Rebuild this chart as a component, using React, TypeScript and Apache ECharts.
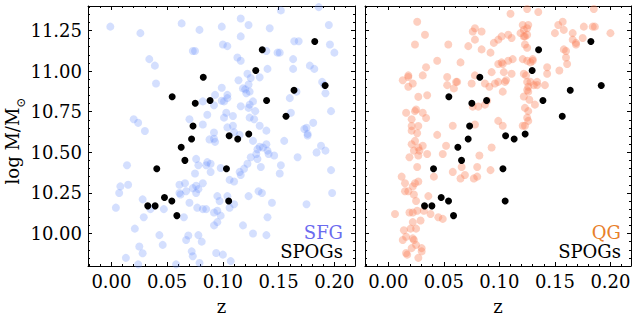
import React, { useEffect, useRef } from "react";
import * as echarts from "echarts";

const FONT = "'DejaVu Serif', serif";

// SFG (star-forming galaxies): [z, log M/Msun]
const SFG: [number, number][] = [
  [-0.001, 11.273], [0.026, 11.233], [0.063, 11.293], [0.079, 11.253], [0.099, 11.273], [0.073, 11.123], [0.075, 11.123],
  [0.100, 11.163], [0.034, 11.073], [0.039, 11.033], [0.040, 10.923], [0.099, 10.897], [0.093, 10.853], [0.082, 10.813],
  [0.092, 10.789], [0.099, 10.817], [0.086, 10.731], [0.020, 10.703], [0.024, 10.681], [0.070, 10.703], [0.082, 10.671],
  [0.030, 10.631], [0.092, 10.621], [0.101, 10.713],
  [0.152, 11.373], [0.186, 11.393], [0.116, 11.323], [0.123, 11.283], [0.142, 11.263], [0.195, 11.283], [0.116, 11.213],
  [0.104, 11.153], [0.164, 11.183], [0.168, 11.183], [0.196, 11.163], [0.200, 11.113], [0.149, 11.113], [0.151, 11.113],
  [0.139, 11.123], [0.113, 11.083], [0.116, 11.063], [0.163, 11.073], [0.178, 11.033], [0.182, 11.013], [0.140, 11.013],
  [0.163, 11.013], [0.122, 10.983], [0.125, 10.957], [0.133, 10.961], [0.114, 10.943], [0.123, 10.917], [0.118, 10.893],
  [0.120, 10.887], [0.124, 10.873], [0.121, 10.863], [0.189, 10.933], [0.191, 10.913], [0.192, 10.863], [0.166, 10.873],
  [0.160, 10.833], [0.104, 10.853], [0.104, 10.833], [0.101, 10.813], [0.127, 10.813], [0.124, 10.793], [0.116, 10.783],
  [0.123, 10.773], [0.129, 10.753], [0.197, 10.753], [0.161, 10.743], [0.103, 10.743], [0.124, 10.713], [0.128, 10.703],
  [0.109, 10.723], [0.181, 10.681], [0.133, 10.663], [0.104, 10.653], [0.109, 10.663], [0.139, 10.633], [0.173, 10.643],
  [0.175, 10.651], [0.176, 10.613], [0.110, 10.623], [0.115, 10.607],
  [0.088, 10.579], [0.092, 10.583], [0.093, 10.564], [0.076, 10.459], [0.078, 10.420], [0.086, 10.439], [0.085, 10.420],
  [0.089, 10.429], [0.098, 10.403], [0.075, 10.369], [0.089, 10.379], [0.014, 10.420], [0.008, 10.290], [0.015, 10.300],
  [0.007, 10.249], [0.061, 10.300], [0.066, 10.309], [0.073, 10.279], [0.076, 10.294], [0.078, 10.273], [0.076, 10.249],
  [0.082, 10.309], [0.061, 10.249], [0.062, 10.240], [0.067, 10.260], [0.070, 10.189], [0.095, 10.230], [0.097, 10.200],
  [0.028, 10.210], [0.004, 10.159], [0.035, 10.150], [0.047, 10.150], [0.077, 10.159], [0.082, 10.150], [0.085, 10.150],
  [0.092, 10.129], [0.095, 10.140], [0.098, 10.110], [0.029, 10.100], [0.065, 10.100], [0.095, 10.070], [0.092, 10.050],
  [0.021, 10.030], [0.043, 9.990], [0.069, 9.988], [0.067, 9.960], [0.078, 9.990], [0.081, 9.950], [0.046, 9.930],
  [0.025, 9.920], [0.028, 9.878], [0.072, 9.890], [0.073, 9.860], [0.094, 9.880], [0.013, 9.850], [0.024, 9.810],
  [0.058, 9.810], [0.079, 9.818], [0.100, 9.870],
  [0.127, 10.570], [0.155, 10.570], [0.176, 10.603], [0.139, 10.549], [0.133, 10.534], [0.136, 10.529], [0.131, 10.519],
  [0.140, 10.510], [0.141, 10.489], [0.130, 10.489], [0.125, 10.469], [0.131, 10.459], [0.146, 10.480], [0.188, 10.540],
  [0.184, 10.499], [0.192, 10.510], [0.167, 10.469], [0.122, 10.429], [0.119, 10.399], [0.115, 10.379], [0.116, 10.360],
  [0.134, 10.409], [0.152, 10.420], [0.151, 10.369], [0.197, 10.390], [0.106, 10.330], [0.110, 10.320], [0.132, 10.260],
  [0.135, 10.249], [0.123, 10.230], [0.104, 10.230], [0.198, 10.249], [0.110, 10.180], [0.106, 10.159], [0.144, 10.189],
  [0.175, 10.180], [0.140, 10.100], [0.118, 10.050], [0.127, 10.000], [0.139, 9.990], [0.107, 9.830],
];

// QG (quiescent galaxies): [z, log M/Msun]
const QG: [number, number][] = [
  [0.026, 11.303], [0.033, 11.223], [0.024, 11.163], [0.054, 11.163], [0.078, 11.263], [0.076, 11.243], [0.084, 11.243],
  [0.078, 11.193], [0.072, 11.153], [0.084, 11.133], [0.095, 11.173], [0.099, 11.193], [0.092, 11.113], [0.044, 11.063],
  [0.065, 11.053], [0.034, 11.023], [0.099, 11.043], [0.093, 10.993], [0.018, 10.973], [0.018, 10.963], [0.013, 10.943],
  [0.022, 10.923], [0.018, 10.903], [0.031, 10.973], [0.053, 10.963], [0.078, 10.973], [0.075, 10.923], [0.061, 10.933],
  [0.062, 10.933], [0.053, 10.913], [0.059, 10.893], [0.087, 10.923], [0.091, 10.903], [0.096, 10.923], [0.099, 10.933],
  [0.027, 10.841], [0.035, 10.851], [0.076, 10.781], [0.081, 10.781], [0.087, 10.793], [0.089, 10.817], [0.016, 10.743],
  [0.024, 10.753], [0.025, 10.763], [0.031, 10.743], [0.034, 10.711], [0.021, 10.703], [0.021, 10.661], [0.027, 10.661],
  [0.021, 10.633], [0.026, 10.617], [0.058, 10.663], [0.078, 10.671], [0.044, 10.607], [0.099, 10.693],
  [0.125, 11.382], [0.135, 11.363], [0.110, 11.352], [0.185, 11.382], [0.121, 11.283], [0.126, 11.283], [0.125, 11.263],
  [0.122, 11.253], [0.157, 11.303], [0.153, 11.283], [0.158, 11.253], [0.150, 11.233], [0.166, 11.233], [0.166, 11.193],
  [0.169, 11.173], [0.169, 11.163], [0.176, 11.273], [0.184, 11.273], [0.186, 11.273], [0.200, 11.233], [0.175, 11.203],
  [0.119, 11.233], [0.122, 11.213], [0.125, 11.223], [0.123, 11.213], [0.102, 11.213], [0.108, 11.223], [0.111, 11.203],
  [0.123, 11.163], [0.125, 11.143], [0.158, 11.133], [0.160, 11.123], [0.160, 11.083], [0.161, 11.043], [0.103, 11.043],
  [0.102, 11.053], [0.108, 11.063], [0.112, 11.073], [0.121, 11.073], [0.125, 11.063], [0.130, 11.063], [0.130, 11.073],
  [0.128, 11.053], [0.143, 11.023], [0.143, 10.983], [0.154, 11.003], [0.104, 10.993], [0.111, 10.983], [0.122, 10.983],
  [0.124, 10.973], [0.125, 10.933], [0.128, 10.933], [0.134, 10.933], [0.131, 10.913], [0.134, 10.913], [0.126, 10.903],
  [0.125, 10.883], [0.126, 10.873], [0.122, 10.843], [0.127, 10.823], [0.106, 10.943], [0.105, 10.933], [0.141, 10.913],
  [0.103, 10.873], [0.132, 10.793], [0.123, 10.773], [0.126, 10.753], [0.125, 10.713], [0.126, 10.693], [0.123, 10.663],
  [0.121, 10.663], [0.103, 10.663],
  [0.024, 10.570], [0.021, 10.549], [0.027, 10.529], [0.031, 10.540], [0.028, 10.510], [0.023, 10.510], [0.027, 10.480],
  [0.019, 10.469], [0.035, 10.489], [0.052, 10.540], [0.049, 10.489], [0.093, 10.529], [0.082, 10.480], [0.026, 10.409],
  [0.066, 10.409], [0.058, 10.379], [0.069, 10.360], [0.065, 10.339], [0.080, 10.409], [0.092, 10.390], [0.080, 10.350],
  [0.077, 10.339], [0.041, 10.350], [0.012, 10.350], [0.015, 10.309], [0.022, 10.290], [0.024, 10.309], [0.027, 10.320],
  [0.015, 10.260], [0.018, 10.260], [0.023, 10.240], [0.036, 10.230], [0.025, 10.200], [0.032, 10.140], [0.038, 10.120],
  [0.006, 10.120], [0.019, 10.129], [0.022, 10.129], [0.026, 10.140], [0.045, 10.100], [0.049, 10.090], [0.022, 10.070],
  [0.029, 10.080], [0.020, 10.030], [0.025, 10.030], [0.014, 10.020], [0.016, 9.980], [0.013, 9.960], [0.022, 9.970],
  [0.023, 9.960], [0.025, 9.930], [0.021, 9.910], [0.030, 9.910], [0.030, 9.890], [0.016, 9.880], [0.017, 9.870],
  [0.027, 9.850],
];

// SPOGs: [z, log M/Msun]
const SPOGS: [number, number][] = [
  [0.0545, 10.841], [0.0824, 10.961], [0.0752, 10.801], [0.0885, 10.819], [0.0732, 10.661], [0.0719, 10.582],
  [0.0626, 10.531], [0.1056, 10.601], [0.1133, 10.582], [0.1232, 10.612], [0.1295, 11.003], [0.1353, 11.131],
  [0.1392, 10.819], [0.1566, 10.721], [0.1638, 10.881], [0.1824, 11.181], [0.1917, 10.911], [0.0659, 10.450],
  [0.0407, 10.399], [0.1032, 10.399], [0.0326, 10.170], [0.0392, 10.170], [0.0476, 10.222], [0.0542, 10.200],
  [0.0587, 10.110], [0.1052, 10.200],
];

const X_TICKS = [0, 0.05, 0.1, 0.15, 0.2];
const Y_TICKS = [10.0, 10.25, 10.5, 10.75, 11.0, 11.25];
const X_RANGE = [-0.021, 0.2185];
const Y_RANGE = [9.8, 11.4];

const X_MINOR: number[] = [];
for (let i = -2; i <= 21; i++) if (i % 5 !== 0) X_MINOR.push(i / 100);
const Y_MINOR: number[] = [];
for (let i = 196; i <= 228; i++) if (i % 5 !== 0) Y_MINOR.push(i / 20);

const GRIDS = [
  { left: 88, top: 6, width: 267, height: 267 },
  { left: 365, top: 6, width: 266, height: 267 },
];

const tickStyle = { color: "#000", width: 1 };

function xAxes(g: number) {
  const base = { type: "value", gridIndex: g, min: X_RANGE[0], max: X_RANGE[1], splitLine: { show: false } };
  return [
    {
      ...base,
      position: "bottom",
      axisLine: { show: true, onZero: false, lineStyle: { color: "#000", width: 1 } },
      axisTick: { show: true, inside: true, length: 4, customValues: X_TICKS, lineStyle: tickStyle },
      axisLabel: {
        show: true, customValues: X_TICKS, formatter: (v: number) => v.toFixed(2), margin: 6,
        color: "#000", fontFamily: FONT, fontSize: 18,
      },
      name: "z", nameLocation: "middle", nameGap: 31,
      nameTextStyle: { color: "#000", fontFamily: FONT, fontSize: 18 },
    },
    {
      ...base,
      position: "bottom",
      axisLine: { show: false, onZero: false },
      axisTick: { show: true, inside: true, length: 2, customValues: X_MINOR, lineStyle: tickStyle },
      axisLabel: { show: false },
    },
    {
      ...base,
      position: "top",
      axisLine: { show: true, onZero: false, lineStyle: { color: "#000", width: 1 } },
      axisTick: { show: true, inside: true, length: 4, customValues: X_TICKS, lineStyle: tickStyle },
      axisLabel: { show: false },
    },
    {
      ...base,
      position: "top",
      axisLine: { show: false, onZero: false },
      axisTick: { show: true, inside: true, length: 2, customValues: X_MINOR, lineStyle: tickStyle },
      axisLabel: { show: false },
    },
  ];
}

function yAxes(g: number) {
  const base = { type: "value", gridIndex: g, min: Y_RANGE[0], max: Y_RANGE[1], splitLine: { show: false } };
  return [
    {
      ...base,
      position: "left",
      axisLine: { show: true, onZero: false, lineStyle: { color: "#000", width: 1 } },
      axisTick: { show: true, inside: true, length: 4, customValues: Y_TICKS, lineStyle: tickStyle },
      axisLabel: {
        show: g === 0, customValues: Y_TICKS, formatter: (v: number) => v.toFixed(2), margin: 6,
        color: "#000", fontFamily: FONT, fontSize: 18,
      },
    },
    {
      ...base,
      position: "left",
      axisLine: { show: false, onZero: false },
      axisTick: { show: true, inside: true, length: 2, customValues: Y_MINOR, lineStyle: tickStyle },
      axisLabel: { show: false },
    },
    {
      ...base,
      position: "right",
      axisLine: { show: true, onZero: false, lineStyle: { color: "#000", width: 1 } },
      axisTick: { show: true, inside: true, length: 4, customValues: Y_TICKS, lineStyle: tickStyle },
      axisLabel: { show: false },
    },
    {
      ...base,
      position: "right",
      axisLine: { show: false, onZero: false },
      axisTick: { show: true, inside: true, length: 2, customValues: Y_MINOR, lineStyle: tickStyle },
      axisLabel: { show: false },
    },
  ];
}

function legendText(x: number, y: number, text: string, color: string) {
  return {
    type: "text", x, y, z: 100,
    style: { text, fill: color, fontFamily: FONT, fontSize: 18, align: "right", verticalAlign: "middle" },
  };
}

export default function App() {
  const ref = useRef<HTMLDivElement>(null);
  useEffect(() => {
    if (!ref.current) return;
    const chart = echarts.init(ref.current, null, { renderer: "svg" });
    const option: any = {
      animation: false,
      backgroundColor: "#fff",
      grid: GRIDS,
      xAxis: [...xAxes(0), ...xAxes(1)],
      yAxis: [...yAxes(0), ...yAxes(1)],
      series: [
        {
          type: "scatter", xAxisIndex: 0, yAxisIndex: 0, data: SFG, symbolSize: 8,
          itemStyle: { color: "rgba(100,140,250,0.28)", opacity: 1 }, silent: true,
        },
        {
          type: "scatter", xAxisIndex: 0, yAxisIndex: 0, data: SPOGS, symbolSize: 7,
          itemStyle: { color: "#000", opacity: 1 }, silent: true, z: 3,
        },
        {
          type: "scatter", xAxisIndex: 4, yAxisIndex: 4, data: QG, symbolSize: 8,
          itemStyle: { color: "rgba(250,128,90,0.38)", opacity: 1 }, silent: true,
        },
        {
          type: "scatter", xAxisIndex: 4, yAxisIndex: 4, data: SPOGS, symbolSize: 7,
          itemStyle: { color: "#000", opacity: 1 }, silent: true, z: 3,
        },
      ],
      graphic: [
        {
          type: "text", x: 15, y: 141, rotation: Math.PI / 2,
          style: {
            text: "{a|log M/M}{b|⊙}",
            align: "center", verticalAlign: "middle",
            rich: {
              a: { fontFamily: FONT, fontSize: 18, fill: "#000", lineHeight: 24, verticalAlign: "top" },
              b: { fontFamily: FONT, fontSize: 12, fill: "#000", lineHeight: 14, verticalAlign: "bottom" },
            },
          },
        },
        legendText(343, 232, "SFG", "#6b6bef"),
        legendText(343, 251, "SPOGs", "#000"),
        legendText(621, 232, "QG", "#e8802a"),
        legendText(621, 251, "SPOGs", "#000"),
      ],
    };
    chart.setOption(option);
    return () => chart.dispose();
  }, []);
  return (
    <div
      ref={ref}
      style={{ position: "fixed", left: 0, top: 0, width: 634, height: 320, background: "#fff" }}
    />
  );
}
